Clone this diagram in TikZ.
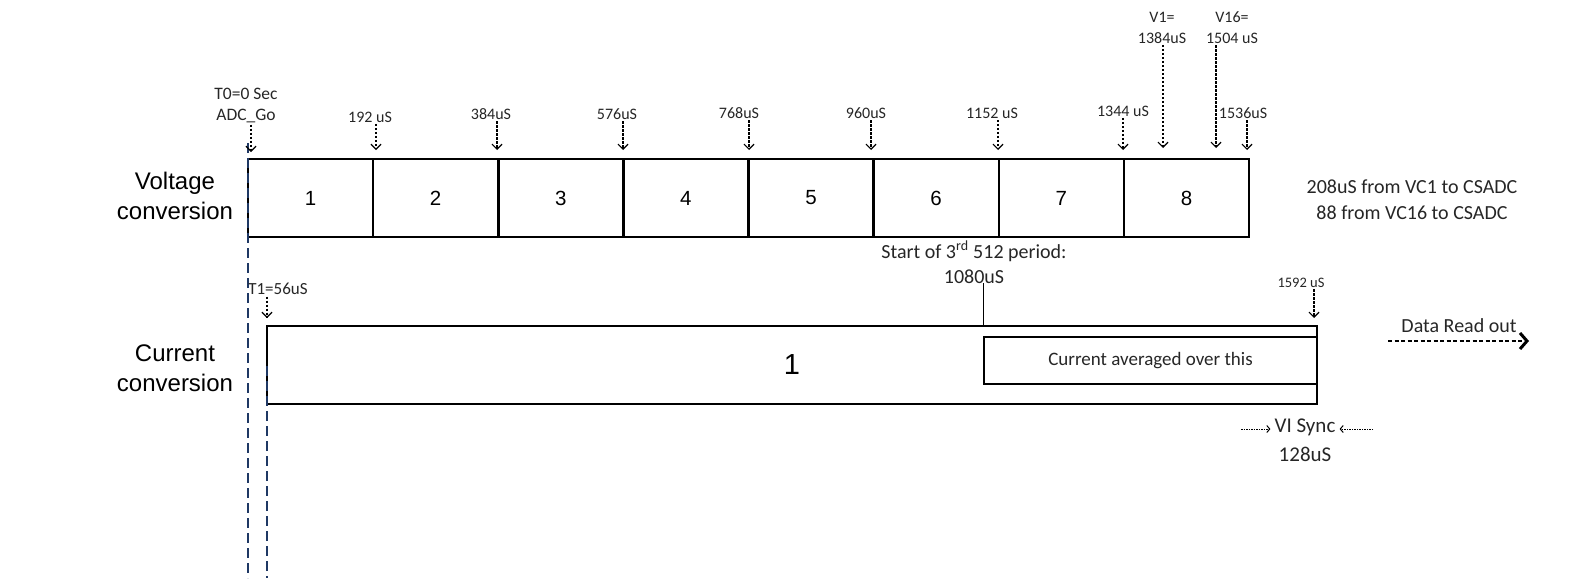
\documentclass[tikz,border=0pt]{standalone}
\usepackage{fontspec}
\setmainfont{Carlito}
\newfontfamily\arialfont{Liberation Sans}
\usetikzlibrary{arrows.meta,calc}
\definecolor{navy}{HTML}{1F3864}
\definecolor{ink}{HTML}{262626}
\tikzset{
  rowlabel/.style={font=\arialfont\fontsize{24}{30}\selectfont,align=center,inner sep=0pt},
  cell/.style={rectangle,draw,line width=2.5pt,minimum width=125.125pt,minimum height=78pt,inner sep=0pt,font=\arialfont\fontsize{20.5}{24}\selectfont},
  ticklbl/.style={font=\fontsize{16}{21}\selectfont,text=ink,align=center,inner sep=1.5pt},
  tickarrow/.style={-{Straight Barb[length=5pt,width=10pt]},line width=1.2pt,dash pattern=on 2.5pt off 1.5pt},
  marker/.style={navy,line width=2pt,dash pattern=on 10pt off 5pt},
  note/.style={font=\fontsize{20}{26}\selectfont,text=ink,align=center,inner sep=0pt}
}
\begin{document}
\begin{tikzpicture}[x=1pt,y=-1pt]
  \path[use as bounding box] (0,0) rectangle (1593,582);
  % row labels
  \node[rowlabel] (vlab) at (175,196) {Voltage\\conversion};
  \node[rowlabel] (clab) at (175,368) {Current\\conversion};
  % voltage conversion cells
  \foreach \i in {1,...,8}
    \node[cell] (v\i) at ({248+125.125*(\i-0.5)},198) {\i};
  % current conversion
  \node[cell,minimum width=1050pt,font=\arialfont\fontsize{29}{34}\selectfont] (cur) at (792,365) {1};
  \node[rectangle,draw,line width=1.3pt,minimum width=333pt,minimum height=47pt,inner sep=0pt,font=\fontsize{19}{23}\selectfont,text=ink] (avg) at (1150.5,360.5) {Current averaged over this};
  % start markers
  \draw[marker] (248,143) -- (248,578);
  \draw[marker] (267,366) -- (267,578);
  % time ticks
  \node[ticklbl,font=\fontsize{17.5}{21}\selectfont] (t0) at (246,105.5) {T0=0 Sec\\ADC\_Go};
  \coordinate (a0) at (251,152);
  \draw[tickarrow] (t0.south -| a0) -- (a0);
  \foreach \nm/\lx/\ly/\ax/\txt in {192/370/117/376/192 uS, 384/491/114/497/384uS, 576/617/114/623/576uS,
      768/739/113/749/768uS, 960/866/113/871/960uS, 1152/992/113/998/1152 uS,
      1344/1123/111/1123/1344 uS, 1536/1243/113/1247/1536uS} {
    \node[ticklbl] (t\nm) at (\lx,\ly) {\txt};
    \coordinate (a\nm) at (\ax,150);
    \draw[tickarrow] (t\nm.south -| a\nm) -- (a\nm);
  }
  \node[ticklbl] (tv1) at (1162,27.5) {V1=\\1384uS};
  \node[ticklbl] (tv16) at (1232,27.5) {V16=\\1504 uS};
  \coordinate (av1) at (1163,148);
  \coordinate (av16) at (1216,148);
  \draw[tickarrow] (tv1.south -| av1) -- (av1);
  \draw[tickarrow] (tv16.south -| av16) -- (av16);
  \node[note] (delay) at (1412,200) {208uS from VC1 to CSADC\\88 from VC16 to CSADC};
  % current ticks
  \node[ticklbl,font=\fontsize{17}{21}\selectfont] (t56) at (278,289) {T1=56uS};
  \coordinate (a56) at (267,318);
  \draw[tickarrow] (t56.south -| a56) -- (a56);
  \node[ticklbl,font=\fontsize{14.5}{18}\selectfont] (t1592) at (1301,283) {1592 uS};
  \coordinate (a1592) at (1314,318);
  \draw[tickarrow] (t1592.south -| a1592) -- (a1592);
  \node[note,font=\fontsize{20}{25}\selectfont] (start) at (974,262) {Start of 3\textsuperscript{rd} 512 period:\\1080uS};
  \draw[line width=1pt] (avg.north west |- start.south) -- (avg.north west |- cur.north);
  % read out and sync
  \node[note,font=\fontsize{20}{24}\selectfont] (read) at (1459,326) {Data Read out};
  \coordinate (r0) at (1388,341);
  \coordinate (r1) at (1529,341);
  \draw[-{Straight Barb[length=7pt,width=16pt,line width=3pt]},line width=2.6pt,dash pattern=on 4pt off 2.5pt] (r0) -- (r1);
  \node[note,font=\fontsize{21}{29}\selectfont] (sync) at (1305,440) {VI Sync\\128uS};
  \coordinate (s0) at (1241,429);
  \coordinate (s1) at (1373,429);
  \draw[-{Straight Barb[length=3pt,width=7pt]},line width=1pt,dash pattern=on 1.5pt off 1pt] (s0) -- ([xshift=-4pt]sync.west |- s0);
  \draw[-{Straight Barb[length=3pt,width=7pt]},line width=1pt,dash pattern=on 1.5pt off 1pt] (s1) -- ([xshift=4pt]sync.east |- s1);
\end{tikzpicture}
\end{document}
